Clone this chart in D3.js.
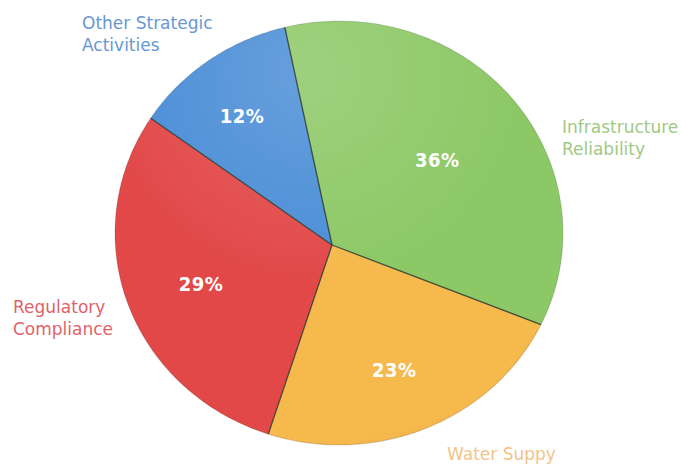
<!DOCTYPE html>
<html>
<head>
<meta charset="utf-8">
<script src="https://cdn.jsdelivr.net/npm/d3@7"></script>
<style>
  html, body { margin: 0; padding: 0; background: #ffffff; }
  svg { display: block; }
  .cat { font-family: "DejaVu Sans", sans-serif; font-size: 17px; }
  .pct { font-family: "DejaVu Sans Condensed", "DejaVu Sans", sans-serif; font-stretch: condensed; font-weight: bold; font-size: 20px; fill: #ffffff; letter-spacing: 0.5px; }
</style>
</head>
<body>
<svg id="chart" width="685" height="466"></svg>
<script>
// Budget share by programme area
const categories = ["Infrastructure Reliability", "Water Suppy", "Regulatory Compliance", "Other Strategic Activities"];
const shares = [36, 23, 29, 12];
const sliceColors = ["#8cc865", "#f6b94c", "#e24848", "#4a8dd6"];
const textColors = ["#9fc985", "#f2c487", "#e0626a", "#6897d2"];
const labelLines = [["Infrastructure", "Reliability"], ["Water Suppy"], ["Regulatory", "Compliance"], ["Other Strategic", "Activities"]];

const svg = d3.select("#chart");

// Slightly tilted disc: outer rim is an ellipse, slices meet a little below its centre
const rim = { cx: 339, cy: 233, rx: 224, ry: 212 };
const apex = { x: 332, y: 245 };
const labelOrigin = { x: (rim.cx + apex.x) / 2, y: (rim.cy + apex.y) / 2 };

const pie = d3.pie().sort(null).value(d => d)
  .startAngle(-14 * Math.PI / 180)
  .endAngle(2 * Math.PI - 14 * Math.PI / 180);
const arcs = pie(shares);

const rimPoint = a => [rim.cx + rim.rx * Math.sin(a), rim.cy - rim.ry * Math.cos(a)];
const line = d3.line();

function slicePath(d) {
  const n = Math.max(8, Math.ceil((d.endAngle - d.startAngle) * 60));
  const pts = [[apex.x, apex.y]];
  d3.range(n + 1).forEach(i => pts.push(rimPoint(d.startAngle + (d.endAngle - d.startAngle) * i / n)));
  return line(pts) + "Z";
}

const defs = svg.append("defs");
const shine = defs.append("radialGradient").attr("id", "shine")
  .attr("gradientUnits", "userSpaceOnUse")
  .attr("cx", rim.cx - 30).attr("cy", rim.cy - 160).attr("r", 430);
shine.append("stop").attr("offset", 0).attr("stop-color", "#ffffff").attr("stop-opacity", 0.16);
shine.append("stop").attr("offset", 0.5).attr("stop-color", "#ffffff").attr("stop-opacity", 0.0);
shine.append("stop").attr("offset", 0.85).attr("stop-color", "#000000").attr("stop-opacity", 0.0);
shine.append("stop").attr("offset", 1).attr("stop-color", "#000000").attr("stop-opacity", 0.08);

const g = svg.append("g");

g.selectAll("path.slice").data(arcs).join("path")
  .attr("class", "slice")
  .attr("d", slicePath)
  .attr("fill", (d, i) => sliceColors[i])
  .attr("stroke", "none");

// soft lighting over the whole disc
g.selectAll("path.light").data(arcs).join("path")
  .attr("class", "light")
  .attr("d", slicePath)
  .attr("fill", "url(#shine)");

// dark separators between slices
g.selectAll("line.sep").data(arcs).join("line")
  .attr("class", "sep")
  .attr("x1", apex.x).attr("y1", apex.y)
  .attr("x2", d => rimPoint(d.startAngle)[0])
  .attr("y2", d => rimPoint(d.startAngle)[1])
  .attr("stroke", "#2c3a30").attr("stroke-width", 1.3).attr("stroke-opacity", 0.85);

// faint rim edge
g.append("ellipse")
  .attr("cx", rim.cx).attr("cy", rim.cy).attr("rx", rim.rx).attr("ry", rim.ry)
  .attr("fill", "none").attr("stroke", "#000").attr("stroke-opacity", 0.12).attr("stroke-width", 1.2);

// percentage labels placed a little beyond each slice's area centroid
const labelK = d => {
  const th = d.endAngle - d.startAngle;
  return 1.1 * 4 * Math.sin(th / 2) / (3 * th);
};
const midA = d => (d.startAngle + d.endAngle) / 2;
g.selectAll("text.pct").data(arcs).join("text")
  .attr("class", "pct")
  .attr("text-anchor", "middle")
  .attr("dominant-baseline", "central")
  .attr("x", d => labelOrigin.x + rim.rx * labelK(d) * Math.sin(midA(d)))
  .attr("y", d => labelOrigin.y - rim.ry * labelK(d) * Math.cos(midA(d)))
  .text(d => d.value + "%");

// category names outside the disc
const catPos = [
  { x: 562, y: 133 },
  { x: 447, y: 460 },
  { x: 13, y: 313 },
  { x: 82, y: 29 }
];
categories.forEach((c, i) => {
  const t = svg.append("text").attr("class", "cat")
    .attr("x", catPos[i].x).attr("y", catPos[i].y)
    .attr("fill", textColors[i]);
  labelLines[i].forEach((ln, j) => {
    t.append("tspan").attr("x", catPos[i].x).attr("dy", j === 0 ? 0 : 22).text(ln);
  });
});
</script>
</body>
</html>
